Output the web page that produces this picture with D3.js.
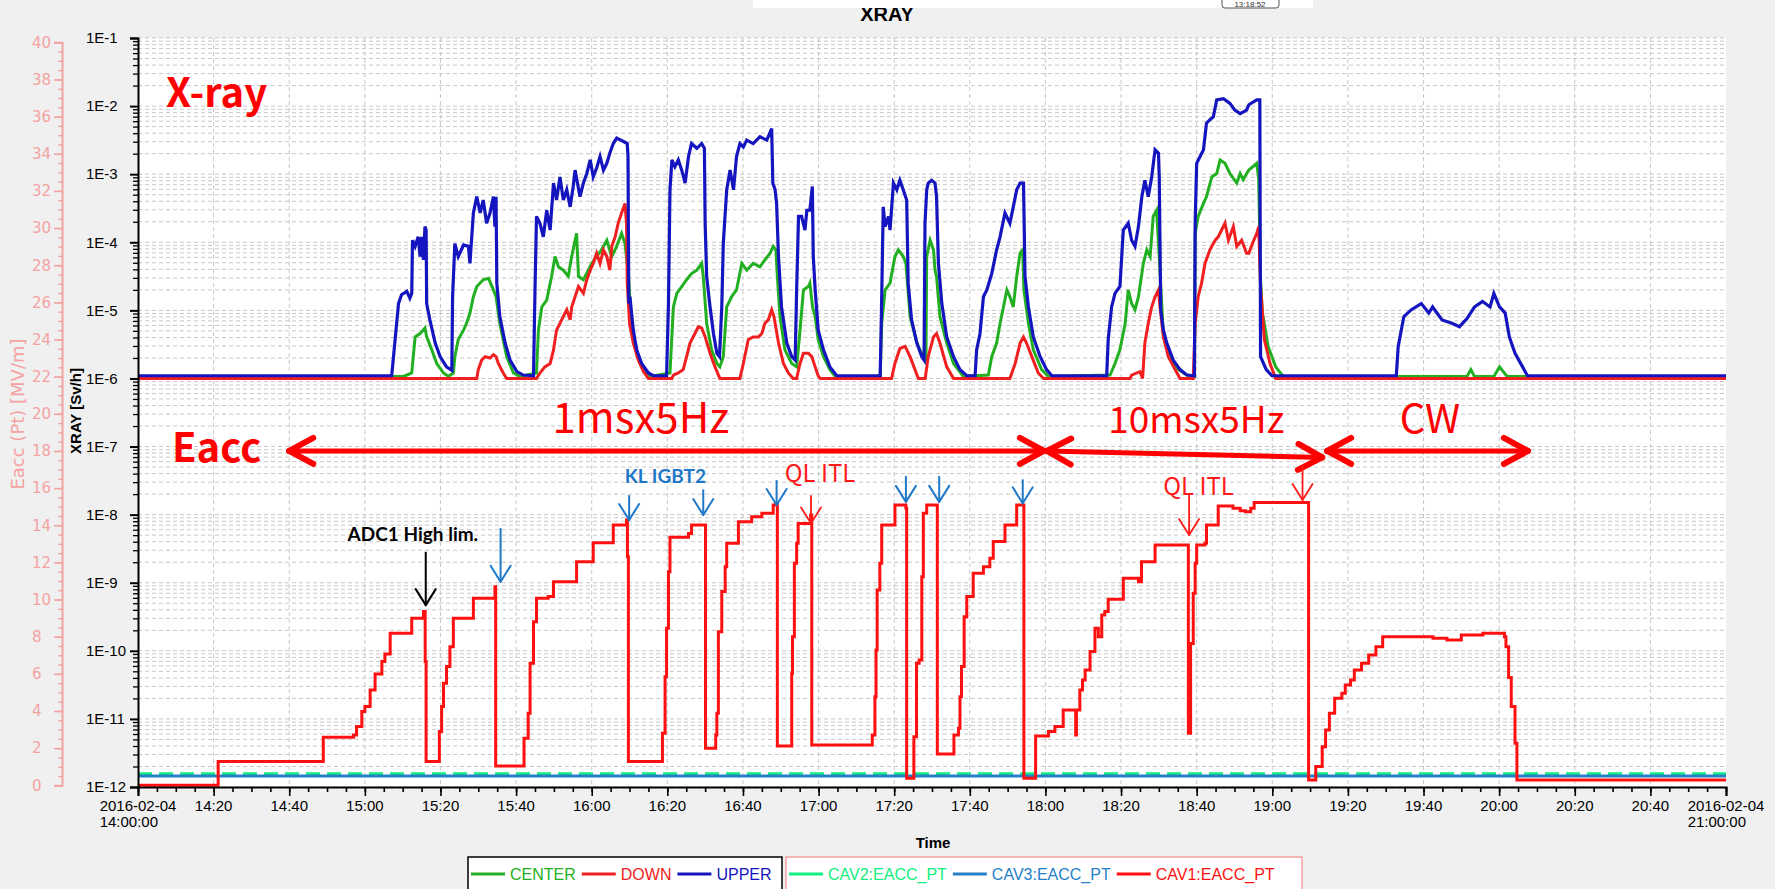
<!DOCTYPE html>
<html><head><meta charset="utf-8">
<script src="https://cdn.jsdelivr.net/npm/d3@7"></script>
<style>
body{margin:0;background:#f0f0f0;}
svg{display:block;}
</style></head>
<body>
<script>
// ---------- DATA ----------
// time in minutes after 2016-02-04 14:00:00
// X-ray dose rates stored as log10(Sv/h)
const upperLog = [[0,-5.96],[67.1,-5.96],[68.0,-5.43],[68.9,-4.90],[69.7,-4.77],[71.1,-4.72],[71.9,-4.82],[72.4,-4.75],[72.6,-3.97],[73.3,-4.06],[74.1,-3.92],[74.6,-4.21],[75.0,-3.92],[75.5,-4.26],[75.9,-3.77],[76.2,-3.82],[76.35,-4.90],[77.2,-5.14],[78.6,-5.48],[79.9,-5.68],[81.6,-5.83],[83.0,-5.88],[83.2,-4.80],[83.8,-4.02],[84.7,-4.21],[86.1,-4.04],[87.4,-4.06],[87.8,-4.31],[88.7,-3.57],[89.6,-3.33],[90.5,-3.57],[91.3,-3.38],[92.2,-3.72],[93.1,-3.57],[94.0,-3.33],[94.4,-3.77],[94.7,-3.33],[94.9,-4.60],[95.7,-5.09],[97.1,-5.48],[98.4,-5.73],[100.2,-5.90],[101.9,-5.95],[104.6,-5.96],[105.0,-4.70],[105.4,-3.62],[106.3,-3.72],[107.2,-3.92],[108.1,-3.53],[109.0,-3.82],[109.9,-3.13],[110.7,-3.38],[111.6,-3.04],[112.5,-3.38],[113.4,-3.23],[114.3,-3.48],[115.1,-3.18],[115.6,-2.94],[116.9,-3.33],[117.8,-3.13],[118.7,-2.99],[119.6,-2.79],[120.4,-3.04],[121.3,-2.91],[122.2,-2.74],[123.1,-2.94],[124.0,-2.84],[124.8,-2.69],[125.7,-2.55],[126.6,-2.47],[128.4,-2.52],[129.4,-2.55],[129.6,-2.74],[129.8,-4.90],[130.1,-4.80],[131.0,-5.29],[131.9,-5.58],[133.2,-5.78],[135.0,-5.92],[136.3,-5.96],[139.8,-5.96],[140.3,-4.90],[140.7,-3.23],[141.2,-2.79],[142.0,-2.89],[142.9,-2.79],[143.8,-2.94],[144.7,-3.13],[145.6,-2.74],[146.4,-2.55],[147.8,-2.62],[149.1,-2.55],[149.8,-2.62],[150.0,-3.72],[150.4,-4.50],[151.3,-4.95],[152.2,-5.34],[153.1,-5.63],[153.8,-5.68],[154.4,-4.95],[154.8,-4.02],[155.7,-3.23],[156.6,-2.94],[157.5,-3.23],[158.3,-2.74],[159.2,-2.55],[160.1,-2.60],[161.0,-2.50],[162.7,-2.55],[164.5,-2.45],[166.3,-2.50],[167.6,-2.33],[167.9,-3.13],[168.5,-3.23],[168.9,-3.43],[169.4,-4.21],[170.2,-4.95],[171.6,-5.48],[172.9,-5.68],[173.8,-5.73],[174.2,-4.70],[174.7,-3.62],[175.5,-3.62],[176.4,-3.82],[176.9,-3.53],[177.7,-3.53],[178.35,-3.18],[178.6,-4.21],[179.1,-4.70],[179.9,-5.29],[181.3,-5.58],[183.0,-5.83],[184.8,-5.96],[196.3,-5.96],[196.7,-4.80],[197.1,-3.48],[197.6,-3.77],[198.5,-3.62],[198.9,-3.82],[199.8,-3.13],[200.7,-3.23],[201.5,-3.09],[202.4,-3.23],[203.3,-3.38],[203.7,-4.60],[204.6,-5.14],[206.0,-5.48],[207.3,-5.68],[207.9,-5.73],[208.15,-3.72],[208.6,-3.23],[209.0,-3.13],[209.9,-3.09],[210.8,-3.13],[211.2,-3.33],[211.7,-4.31],[212.6,-4.90],[213.9,-5.39],[215.7,-5.68],[217.4,-5.87],[219.2,-5.96],[221.4,-5.96],[221.8,-5.58],[222.7,-5.34],[223.6,-4.80],[224.5,-4.70],[225.8,-4.46],[227.1,-4.11],[228.0,-3.92],[229.3,-3.57],[230.6,-3.72],[231.5,-3.48],[232.4,-3.23],[233.3,-3.13],[234.2,-3.13],[234.6,-4.50],[235.5,-4.95],[236.8,-5.39],[238.6,-5.68],[240.3,-5.87],[241.7,-5.96],[256.2,-5.96],[256.6,-5.43],[257.5,-4.95],[258.4,-4.75],[259.7,-4.65],[260.6,-3.82],[261.9,-3.72],[262.8,-3.97],[263.7,-4.06],[264.6,-3.77],[265.5,-3.33],[266.3,-3.09],[267.2,-3.33],[268.1,-3.04],[269.0,-2.64],[269.9,-2.69],[270.1,-3.04],[270.5,-4.99],[271.2,-5.29],[272.1,-5.48],[273.8,-5.73],[275.6,-5.87],[277.4,-5.95],[279.4,-5.96],[279.6,-3.72],[280.0,-2.84],[280.9,-2.74],[281.8,-2.64],[282.6,-2.25],[283.5,-2.20],[284.4,-2.16],[285.3,-1.91],[287.1,-1.89],[288.8,-1.96],[290.1,-2.06],[291.5,-2.11],[293.2,-2.06],[293.8,-1.98],[295.9,-1.91],[296.7,-1.91],[296.9,-5.68],[298.4,-5.87],[299.9,-5.96],[332.8,-5.96],[333.3,-5.53],[334.8,-5.09],[336.8,-4.99],[339.4,-4.90],[341.4,-5.04],[342.4,-4.95],[344.9,-5.14],[347.5,-5.19],[349.5,-5.24],[351.5,-5.12],[353.5,-4.95],[355.6,-4.87],[357.6,-4.95],[358.6,-4.75],[360.1,-4.95],[361.6,-5.04],[362.7,-5.39],[364.2,-5.63],[366.2,-5.83],[367.5,-5.96],[420,-5.96]];

const centerLog = [[0,-5.97],[70.2,-5.97],[72.4,-5.92],[72.8,-5.68],[73.3,-5.39],[74.6,-5.34],[75.9,-5.26],[76.35,-5.39],[77.7,-5.58],[79.0,-5.78],[80.8,-5.92],[82.1,-5.97],[83.4,-5.92],[83.8,-5.68],[84.7,-5.43],[86.1,-5.29],[86.9,-5.19],[87.8,-5.04],[88.7,-4.80],[89.6,-4.65],[91.3,-4.55],[92.7,-4.53],[94.0,-4.70],[94.7,-4.80],[95.7,-5.19],[97.5,-5.68],[99.3,-5.92],[101.0,-5.97],[105.4,-5.92],[105.9,-5.29],[106.8,-4.95],[108.1,-4.85],[109.4,-4.50],[110.3,-4.21],[111.2,-4.36],[112.5,-4.41],[113.8,-4.50],[114.7,-4.21],[116.0,-3.87],[116.5,-4.50],[117.8,-4.55],[119.1,-4.41],[120.0,-4.31],[121.3,-4.21],[122.6,-4.11],[124.0,-3.97],[125.3,-4.21],[126.6,-4.06],[127.9,-3.87],[128.8,-4.02],[129.7,-4.46],[130.6,-5.29],[131.9,-5.63],[133.7,-5.87],[135.4,-5.97],[140.7,-5.92],[141.6,-4.95],[142.5,-4.75],[143.8,-4.65],[145.1,-4.55],[146.4,-4.46],[147.8,-4.41],[149.1,-4.31],[149.5,-4.50],[150.4,-5.19],[151.7,-5.58],[153.1,-5.78],[153.9,-5.83],[154.8,-5.68],[155.7,-4.95],[157.0,-4.80],[158.3,-4.70],[159.7,-4.31],[161.0,-4.41],[162.7,-4.31],[164.5,-4.36],[165.8,-4.26],[167.2,-4.16],[168.0,-4.06],[168.7,-4.11],[169.1,-4.50],[169.8,-5.09],[171.1,-5.58],[172.9,-5.78],[174.2,-5.83],[175.1,-5.29],[176.0,-4.70],[177.3,-4.65],[177.7,-4.60],[178.4,-4.95],[179.1,-5.09],[179.9,-5.43],[181.3,-5.68],[183.0,-5.87],[184.4,-5.97],[196.3,-5.97],[196.7,-5.19],[197.6,-4.70],[198.9,-4.60],[200.2,-4.21],[201.1,-4.11],[202.4,-4.21],[203.1,-4.31],[204.2,-5.09],[206.0,-5.48],[207.7,-5.68],[208.4,-5.75],[208.6,-4.21],[209.5,-3.97],[210.4,-4.11],[210.8,-4.41],[211.2,-4.50],[212.1,-5.09],[213.9,-5.48],[215.7,-5.78],[218.3,-5.97],[224.9,-5.95],[225.8,-5.68],[227.1,-5.48],[228.0,-5.19],[228.9,-4.95],[229.8,-4.70],[230.6,-4.80],[231.5,-4.95],[232.4,-4.50],[233.3,-4.16],[234.0,-4.11],[234.3,-4.70],[235.5,-5.19],[236.8,-5.58],[239.0,-5.87],[240.8,-5.97],[257.1,-5.95],[258.4,-5.78],[259.7,-5.58],[261.1,-5.19],[261.9,-4.70],[262.8,-4.90],[263.7,-4.99],[264.6,-4.80],[265.9,-4.31],[266.8,-4.11],[267.7,-4.21],[268.5,-3.62],[269.4,-3.53],[270.1,-4.21],[271.2,-5.39],[273.0,-5.68],[274.7,-5.85],[277.4,-5.95],[279.4,-5.97],[279.6,-3.87],[280.4,-3.62],[281.8,-3.43],[282.6,-3.33],[284.0,-3.04],[285.3,-2.99],[286.2,-2.79],[287.5,-2.84],[288.8,-2.99],[290.6,-3.13],[291.5,-2.99],[292.3,-3.08],[293.8,-2.94],[295.9,-2.84],[296.4,-3.08],[296.9,-4.55],[297.4,-5.04],[298.9,-5.53],[300.9,-5.83],[302.9,-5.97],[351.5,-5.97],[352.5,-5.87],[353.5,-5.97],[358.6,-5.97],[360.1,-5.83],[362.1,-5.97],[420,-5.97]];

const downLog = [[0,-6.0],[89.6,-6.0],[90.0,-5.87],[90.9,-5.73],[91.8,-5.68],[93.1,-5.70],[94.0,-5.65],[94.7,-5.68],[95.3,-5.78],[96.6,-5.92],[97.5,-6.0],[105.4,-6.0],[106.3,-5.92],[107.6,-5.83],[109.0,-5.78],[109.9,-5.58],[110.7,-5.29],[111.6,-5.19],[112.5,-5.09],[113.4,-4.99],[114.3,-5.14],[114.7,-4.95],[115.6,-4.80],[116.5,-4.65],[117.8,-4.75],[118.7,-4.55],[119.6,-4.41],[120.4,-4.31],[121.3,-4.16],[122.2,-4.31],[123.1,-4.11],[124.0,-4.21],[124.8,-4.41],[125.3,-4.06],[126.2,-3.92],[127.0,-3.72],[127.9,-3.57],[128.8,-3.43],[129.2,-3.72],[129.4,-4.60],[130.0,-5.19],[131.0,-5.48],[132.3,-5.73],[133.7,-5.90],[135.0,-6.0],[141.2,-6.0],[141.6,-5.95],[142.9,-5.92],[144.2,-5.87],[145.1,-5.68],[146.0,-5.48],[147.3,-5.34],[148.2,-5.24],[149.1,-5.26],[150.0,-5.39],[151.3,-5.63],[152.6,-5.83],[153.9,-6.0],[159.2,-6.0],[160.1,-5.78],[161.4,-5.43],[162.7,-5.39],[164.1,-5.39],[165.0,-5.34],[165.8,-5.19],[166.7,-5.14],[167.6,-4.99],[168.2,-5.09],[169.4,-5.48],[170.7,-5.78],[172.0,-5.92],[173.3,-6.0],[174.2,-6.0],[175.1,-5.78],[176.0,-5.63],[177.3,-5.63],[178.2,-5.68],[179.1,-5.83],[179.9,-5.96],[180.4,-6.0],[199.3,-6.0],[200.2,-5.78],[201.5,-5.56],[202.9,-5.53],[204.2,-5.68],[205.5,-5.87],[206.4,-6.0],[208.2,-6.0],[209.0,-5.68],[210.4,-5.39],[211.2,-5.34],[212.1,-5.48],[213.9,-5.83],[215.7,-6.0],[230.6,-6.0],[232.0,-5.78],[233.3,-5.48],[234.2,-5.39],[235.0,-5.48],[236.4,-5.68],[238.1,-5.92],[239.5,-6.0],[262.4,-6.0],[262.8,-5.95],[265.0,-5.90],[265.7,-6.0],[266.3,-5.48],[267.2,-5.19],[268.1,-4.95],[269.0,-4.80],[269.9,-4.70],[270.3,-4.95],[271.2,-5.39],[272.5,-5.68],[274.3,-5.87],[275.6,-6.0],[279.1,-6.0],[279.6,-5.19],[280.4,-4.80],[281.3,-4.60],[282.2,-4.31],[283.5,-4.11],[284.9,-3.97],[285.7,-3.92],[286.6,-3.82],[287.5,-3.72],[288.4,-3.97],[289.7,-3.77],[290.6,-4.06],[291.9,-3.97],[293.2,-4.16],[293.8,-4.16],[294.8,-4.01],[295.9,-3.87],[296.4,-3.77],[296.9,-4.65],[297.9,-5.43],[299.4,-5.78],[300.9,-6.0],[420,-6.0]];

// Eacc (MV/m), step changes: value holds from given minute
const cav1Eacc = [[0,0],[21.2,1.28],[49.0,2.59],[57.0,2.71],[57.8,3.16],[59.2,3.97],[60.0,4.24],[61.4,5.13],[62.7,5.99],[64.5,6.66],[65.3,7.07],[66.7,8.18],[72.4,8.99],[75.5,9.35],[75.95,6.66],[76.2,1.28],[79.7,2.89],[80.3,4.24],[80.8,5.49],[81.6,6.39],[82.5,7.46],[83.4,8.99],[88.7,10.07],[94.4,10.69],[94.6,1.04],[102.1,2.53],[103.2,3.88],[103.7,6.57],[104.6,8.81],[105.4,10.07],[108.5,10.16],[109.9,10.96],[116.0,12.04],[120.4,13.06],[125.7,14.01],[129.2,14.28],[129.45,12.31],[129.7,1.28],[138.7,2.8],[139.4,5.85],[139.8,8.45],[140.3,11.5],[140.7,13.35],[145.6,13.56],[146.4,14.01],[150.1,1.99],[152.8,2.71],[153.1,3.88],[153.5,8.27],[154.4,10.43],[155.3,11.77],[155.7,13.03],[158.8,14.19],[162.3,14.46],[165.0,14.64],[168.0,15.09],[168.7,15.18],[169.1,2.12],[172.9,6.03],[173.1,8.0],[173.6,11.95],[174.2,13.03],[174.6,14.1],[177.9,14.55],[178.2,2.17],[194.2,2.71],[194.9,4.77],[195.2,7.29],[195.5,10.52],[196.2,11.95],[196.7,14.01],[200.2,15.09],[203.1,14.91],[203.3,0.38],[205.2,2.62],[205.9,6.57],[206.6,6.75],[207.3,11.23],[207.7,14.64],[208.6,15.09],[211.4,1.69],[215.8,2.71],[217.0,3.07],[217.4,4.77],[217.8,6.39],[218.5,9.08],[219.2,10.16],[220.9,11.41],[223.6,11.77],[225.3,12.22],[226.2,13.12],[229.3,14.01],[232.4,15.09],[234.3,0.38],[237.4,2.66],[240.8,2.89],[242.5,3.16],[244.7,4.06],[248.0,2.71],[248.2,4.06],[249.1,5.13],[249.8,5.67],[250.5,6.21],[251.8,7.2],[253.1,8.45],[254.0,8.0],[254.9,9.17],[255.7,9.35],[256.6,10.01],[260.6,11.14],[264.6,10.96],[265.4,12.04],[269.0,12.94],[277.8,2.8],[278.4,7.64],[279.1,10.34],[279.6,11.95],[280.0,12.94],[282.2,13.03],[282.6,14.01],[285.7,15.04],[289.6,14.91],[291.5,14.78],[292.9,14.73],[294.3,14.91],[295.2,15.22],[309.6,0.29],[311.5,1.01],[313.2,2.08],[314.1,2.98],[315.1,3.88],[316.5,4.68],[318.4,4.95],[319.3,5.4],[320.7,5.67],[321.7,6.21],[323.6,6.57],[325.5,7.02],[327.4,7.46],[329.2,8.0],[342.5,7.91],[346.2,7.82],[350.0,8.09],[355.7,8.18],[361.4,8.0],[361.8,7.46],[362.5,5.8],[363.2,4.24],[364.2,2.26],[364.7,0.29],[420,0.29]];
const cav2Eacc = [[0,0.62],[420,0.62]];
const cav3Eacc = [[0,0.5],[420,0.5]];

// tick labels
const timeTickMinutes = [0,20,40,60,80,100,120,140,160,180,200,220,240,260,280,300,320,340,360,380,400,420];
const timeTickLabels = [["2016-02-04","14:00:00"],"14:20","14:40","15:00","15:20","15:40","16:00","16:20","16:40","17:00","17:20","17:40","18:00","18:20","18:40","19:00","19:20","19:40","20:00","20:20","20:40",["2016-02-04","21:00:00"]];
const xrayTickValues = [1e-12,1e-11,1e-10,1e-9,1e-8,1e-7,1e-6,1e-5,1e-4,1e-3,1e-2,1e-1];
const xrayTickLabels = ["1E-12","1E-11","1E-10","1E-9","1E-8","1E-7","1E-6","1E-5","1E-4","1E-3","1E-2","1E-1"];
const eaccTickValues = [0,2,4,6,8,10,12,14,16,18,20,22,24,26,28,30,32,34,36,38,40];

// legend
const xrayNames = ["CENTER","DOWN","UPPER"];
const xrayColors = ["#22b022","#f02020","#1515c0"];
const cavNames = ["CAV2:EACC_PT","CAV3:EACC_PT","CAV1:EACC_PT"];
const cavColors = ["#10f080","#2580c8","#ff1010"];

// annotations: [minute, Eacc top, Eacc tip]
const blueArrows = [[95.9,13.85,10.96],[129.9,15.62,14.28],[149.5,15.93,14.55],[168.9,16.43,15.09],[203.1,16.65,15.26],[211.9,16.65,15.26],[234.0,16.47,15.18]];
const redArrows = [[178.0,15.62,14.1],[278.0,15.72,13.47],[308.0,17.24,15.36]];
const blackArrows = [[76.1,12.57,9.70]];
// mode ranges: [start min, end min, Eacc left, Eacc right, label, label minute, label size]
const modeRanges = [[40,239.6,18.0,18.0,"1msx5Hz",133,42],[240.4,313.2,18.0,17.65,"10msx5Hz",279.9,37],[314.5,367.6,18.0,18.0,"CW",341.7,40]];

// ---------- CHART ----------
const W=1775,H=889;
const T0 = new Date(2016,1,4,14,0,0);
const toDate = m => new Date(T0.getTime()+m*60000);
const L=138,R=1726,TOP=38,BOT=787;

const x = d3.scaleTime().domain([T0,toDate(420)]).range([L,R]);
const yX = d3.scaleLog().domain([1e-12,1e-1]).range([BOT,TOP]);
const yE = d3.scaleLinear().domain([0,40]).range([785.3,42.3]);

const tickFont = "'Liberation Sans Narrow','Liberation Sans',Arial,sans-serif";
const svg = d3.select("body").append("svg").attr("width",W).attr("height",H);
svg.append("rect").attr("width",W).attr("height",H).attr("fill","#f0f0f0");
svg.append("rect").attr("x",L).attr("y",TOP).attr("width",R-L).attr("height",BOT-TOP).attr("fill","#fff");

// grid
const grid = svg.append("g").attr("stroke","#c8c8c8").attr("stroke-width",1).attr("stroke-dasharray","4,3");
const hvals=[];
for(let e=-12;e<-1;e++) for(let k=1;k<10;k++) hvals.push(k*10**e);
hvals.push(1e-1);
grid.selectAll("line.h").data(hvals).join("line").attr("x1",L).attr("x2",R)
  .attr("y1",d=>yX(d)).attr("y2",d=>yX(d));
grid.selectAll("line.v").data(timeTickMinutes.slice(1,-1)).join("line")
  .attr("x1",d=>x(toDate(d))).attr("x2",d=>x(toDate(d))).attr("y1",TOP).attr("y2",BOT);

svg.append("clipPath").attr("id","pc").append("rect").attr("x",L).attr("y",TOP-2).attr("width",R-L).attr("height",BOT-TOP+4);
const plot = svg.append("g").attr("clip-path","url(#pc)");

const eLine = d3.line().curve(d3.curveStepAfter).x(d=>x(toDate(d[0]))).y(d=>yE(d[1]));
const xLine = d3.line().x(d=>x(toDate(d[0]))).y(d=>yX(10**d[1]));

plot.append("path").attr("d",eLine(cav2Eacc)).attr("fill","none").attr("stroke",cavColors[0]).attr("stroke-width",3).attr("stroke-dasharray","14,7");
plot.append("path").attr("d",eLine(cav3Eacc)).attr("fill","none").attr("stroke",cavColors[1]).attr("stroke-width",3);
plot.append("path").attr("d",eLine(cav1Eacc)).attr("fill","none").attr("stroke",cavColors[2]).attr("stroke-width",3).attr("stroke-linejoin","miter");

plot.append("path").attr("d",xLine(centerLog)).attr("fill","none").attr("stroke",xrayColors[0]).attr("stroke-width",3);
plot.append("path").attr("d",xLine(downLog)).attr("fill","none").attr("stroke",xrayColors[1]).attr("stroke-width",3);
plot.append("path").attr("d",xLine(upperLog)).attr("fill","none").attr("stroke",xrayColors[2]).attr("stroke-width",3.2);

// X axis
const xa = svg.append("g").attr("transform",`translate(0,${BOT})`);
xa.call(d3.axisBottom(x).tickValues(d3.range(0,421,5).map(toDate)).tickSize(5).tickFormat(""));
xa.selectAll(".tick line").attr("stroke","#000").attr("stroke-width",1.6);
xa.select(".domain").remove();
const xa2 = svg.append("g").attr("transform",`translate(0,${BOT})`);
xa2.call(d3.axisBottom(x).tickValues(timeTickMinutes.map(toDate)).tickSize(9).tickFormat(""));
xa2.selectAll(".tick line").attr("stroke","#000").attr("stroke-width",1.6);
xa2.select(".domain").attr("stroke","#000").attr("stroke-width",2);
timeTickMinutes.forEach((m,i)=>{
  const lab=timeTickLabels[i], px=x(toDate(m));
  if(Array.isArray(lab)){
    const t1=svg.append("text").attr("font-family",tickFont).attr("font-size",15).attr("y",BOT+24).text(lab[0]);
    const w=t1.node().getComputedTextLength();
    t1.attr("x",px-w/2);
    svg.append("text").attr("font-family",tickFont).attr("font-size",15).attr("x",px-w/2).attr("y",BOT+40).text(lab[1]);
  } else {
    svg.append("text").attr("font-family",tickFont).attr("font-size",15).attr("x",px).attr("y",BOT+24).attr("text-anchor","middle").text(lab);
  }
});
svg.append("text").attr("x",933).attr("y",848).attr("text-anchor","middle").attr("font-family","Arial,'Liberation Sans',sans-serif").attr("font-weight","bold").attr("font-size",15).text("Time");

// X-ray axis
const minorX=[];
for(let e=-12;e<-1;e++) for(let k=2;k<10;k++) minorX.push(k*10**e);
const ya = svg.append("g").attr("transform",`translate(${L},0)`);
ya.call(d3.axisLeft(yX).tickValues(minorX).tickSize(5).tickFormat(""));
ya.selectAll(".tick line").attr("stroke","#000").attr("stroke-width",1.3);
ya.select(".domain").remove();
const ya2 = svg.append("g").attr("transform",`translate(${L},0)`);
ya2.call(d3.axisLeft(yX).tickValues(xrayTickValues).tickSize(8).tickFormat((d,i)=>xrayTickLabels[i]));
ya2.selectAll(".tick line").attr("stroke","#000").attr("stroke-width",2);
ya2.select(".domain").attr("stroke","#000").attr("stroke-width",2);
ya2.selectAll(".tick text").attr("x",-52).attr("text-anchor","start").attr("font-family",tickFont).attr("font-size",15).attr("fill","#000");
svg.append("text").attr("transform","translate(81,411) rotate(-90)").attr("text-anchor","middle")
  .attr("font-family","Arial,'Liberation Sans',sans-serif").attr("font-weight","bold").attr("font-size",15).text("XRAY [Sv/h]");

// Eacc axis
const pink="#f4a2a2";
const ea = svg.append("g").attr("transform","translate(62,0)");
ea.call(d3.axisLeft(yE).tickValues(d3.range(0,40.01,0.5)).tickSize(4).tickFormat(""));
ea.selectAll(".tick line").attr("stroke",pink).attr("stroke-width",1.3);
ea.select(".domain").remove();
const ea2 = svg.append("g").attr("transform","translate(62,0)");
ea2.call(d3.axisLeft(yE).tickValues(eaccTickValues).tickSize(8).tickFormat(d=>String(d)));
ea2.selectAll(".tick line").attr("stroke",pink).attr("stroke-width",1.6);
ea2.select(".domain").attr("stroke",pink).attr("stroke-width",2);
ea2.selectAll(".tick text").attr("x",-30).attr("text-anchor","start").attr("font-family","'DejaVu Sans',sans-serif").attr("font-size",15).attr("fill",pink);
svg.append("text").attr("transform","translate(24,414) rotate(-90)").attr("text-anchor","middle")
  .attr("font-family","'DejaVu Sans',sans-serif").attr("font-size",18).attr("fill",pink).text("Eacc (Pt) [MV/m]");

// ---------- annotations ----------
const annFont = "'Noto Sans CJK JP','Noto Sans',sans-serif";
svg.append("text").attr("x",166).attr("y",107).attr("font-family",annFont).attr("font-weight","bold").attr("font-size",40).attr("fill","#ff0000").text("X-ray");
svg.append("text").attr("x",x(toDate(9))).attr("y",yE(17.4)).attr("font-family",annFont).attr("font-weight","bold").attr("font-size",40).attr("fill","#ff0000").text("Eacc");

function chevron(g, px, py, dirx, diry, len, half, color, sw){
  const nx=-diry, ny=dirx;
  [1,-1].forEach(s=>{
    g.append("line").attr("x1",px).attr("y1",py)
      .attr("x2",px-dirx*len+nx*half*s).attr("y2",py-diry*len+ny*half*s)
      .attr("stroke",color).attr("stroke-width",sw).attr("stroke-linecap","round");
  });
}
const ann = svg.append("g");
modeRanges.forEach(r=>{
  const x1=x(toDate(r[0])), x2=x(toDate(r[1])), y1=yE(r[2]), y2=yE(r[3]);
  ann.append("line").attr("x1",x1).attr("y1",y1).attr("x2",x2).attr("y2",y2).attr("stroke","#ff0000").attr("stroke-width",5).attr("stroke-linecap","round");
  const len=Math.hypot(x2-x1,y2-y1), dx=(x2-x1)/len, dy=(y2-y1)/len;
  chevron(ann,x2,y2,dx,dy,24,13,"#ff0000",6);
  chevron(ann,x1,y1,-dx,-dy,24,13,"#ff0000",6);
  ann.append("text").attr("x",x(toDate(r[5]))).attr("y",yE(18.96)).attr("text-anchor","middle")
    .attr("font-family",annFont).attr("font-size",r[6]).attr("fill","#ff0000").text(r[4]);
});
function vArrow(a,color,sw){
  const px=x(toDate(a[0])), y1=yE(a[1]), y2=yE(a[2]);
  ann.append("line").attr("x1",px).attr("x2",px).attr("y1",y1).attr("y2",y2).attr("stroke",color).attr("stroke-width",sw);
  chevron(ann,px,y2,0,1,16,10,color,sw);
}
blueArrows.forEach(a=>vArrow(a,"#1f78c8",2));
redArrows.forEach(a=>vArrow(a,"#ff1a1a",1.8));
blackArrows.forEach(a=>vArrow(a,"#000",2));
ann.append("text").attr("x",x(toDate(72.7))).attr("y",yE(13.15)).attr("text-anchor","middle").attr("font-family","Lato,'Open Sans',sans-serif").attr("font-weight","bold").attr("font-size",19).text("ADC1 High lim.");
ann.append("text").attr("x",x(toDate(139.5))).attr("y",yE(16.27)).attr("text-anchor","middle").attr("font-family","Lato,'Open Sans',sans-serif").attr("font-weight","bold").attr("font-size",19).attr("fill","#1f78c8").text("KL IGBT2");
ann.append("text").attr("x",x(toDate(180.4))).attr("y",yE(16.32)).attr("text-anchor","middle").attr("font-family",annFont).attr("font-size",24).attr("fill","#ff1a1a").text("QL ITL");
ann.append("text").attr("x",x(toDate(280.5))).attr("y",yE(15.62)).attr("text-anchor","middle").attr("font-family",annFont).attr("font-size",24).attr("fill","#ff1a1a").text("QL ITL");

// ---------- legend ----------
function legendBox(x0,x1,names,colors,border){
  svg.append("rect").attr("x",x0).attr("y",857).attr("width",x1-x0).attr("height",36).attr("fill","#fff").attr("stroke",border).attr("stroke-width",1.5);
  let cx=x0+3;
  names.forEach((n,i)=>{
    svg.append("line").attr("x1",cx).attr("x2",cx+34).attr("y1",874).attr("y2",874).attr("stroke",colors[i]).attr("stroke-width",3);
    const t=svg.append("text").attr("x",cx+39).attr("y",880).attr("font-family",tickFont).attr("font-size",16).attr("fill",colors[i]).text(n);
    cx+=39+t.node().getComputedTextLength()+6;
  });
}
legendBox(468,782,xrayNames,xrayColors,"#000");
legendBox(786,1302,cavNames,cavColors,"#f4a0a0");

// ---------- title / top strip ----------
svg.append("text").attr("x",887).attr("y",21).attr("text-anchor","middle").attr("font-family","Arial,'Liberation Sans',sans-serif").attr("font-weight","bold").attr("font-size",20).text("XRAY");
svg.append("rect").attr("x",753).attr("y",0).attr("width",560).attr("height",8).attr("fill","#fff");
svg.append("rect").attr("x",1222).attr("y",-4).attr("width",57).attr("height",12).attr("rx",3).attr("fill","#fff").attr("stroke","#555").attr("stroke-width",1);
svg.append("text").attr("x",1250).attr("y",7).attr("text-anchor","middle").attr("font-family",tickFont).attr("font-size",8).attr("fill","#333").text("13:18:52");
</script>
</body></html>
